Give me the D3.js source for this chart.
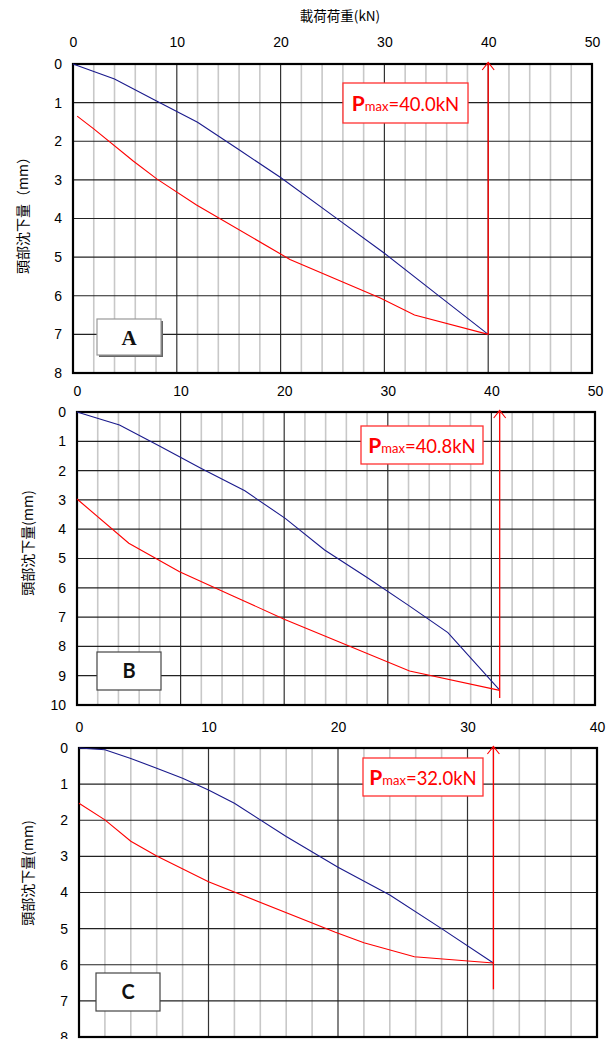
<!DOCTYPE html>
<html><head><meta charset="utf-8">
<script src="https://cdn.jsdelivr.net/npm/d3@7"></script>
<style>body{margin:0;background:#fff}svg{display:block}</style></head>
<body><svg id="chart" width="614" height="1039"></svg>
<script>
// ---- data ----
const xTitle = "載荷荷重(kN)";
const yTitles = ["頭部沈下量（mm）", "頭部沈下量(mm)", "頭部沈下量(mm)"];
const panelNames = ["A", "B", "C"];
const xMaxes = [50, 50, 40];
const yMaxes = [8, 10, 8];
const pmaxValues = [40.0, 40.8, 32.0];
const pmaxLabels = ["=40.0kN", "=40.8kN", "=32.0kN"];
const arrowEnds = [7.0, 9.76, 6.68];

const loadA = [[0,0],[4,0.39],[8,0.95],[12,1.51],[16,2.22],[20,2.94],[25,3.92],[30,4.9],[35,5.95],[40,7.0]];
const unloadA = [[40,7.0],[32.9,6.5],[29.6,6.06],[20.9,5.06],[11.9,3.65],[8.1,2.98],[5.8,2.51],[2,1.68],[0.4,1.35]];
const loadB = [[0,0],[4.1,0.44],[8,1.17],[12,1.93],[16.2,2.69],[20.1,3.63],[23.9,4.71],[28,5.65],[32,6.6],[35.8,7.53],[40.8,9.49]];
const unloadB = [[40.8,9.5],[32.1,8.84],[20,7.07],[15,6.27],[9.9,5.45],[5,4.48],[0,2.97]];
const loadC = [[0,0],[2,0.05],[4,0.29],[6,0.56],[8,0.84],[10,1.16],[12,1.53],[16,2.45],[20,3.3],[24,4.07],[28,5.0],[32,5.95]];
const unloadC = [[32,5.95],[25.9,5.78],[22,5.39],[19.8,5.1],[10,3.7],[6,2.99],[4,2.58],[2,1.99],[0,1.53]];
const loadSeries = [loadA, loadB, loadC];
const unloadSeries = [unloadA, unloadB, unloadC];

// ---- layout (pixels) ----
const layout = [
  {l:73, r:592, t:64, b:373, tickPad:17, yTitleX:23, yTitleY:212,
   box:{x:343,y:83,w:125,h:40}, lbl:{x:97,y:319,w:64,h:36}, lblFont:"'Liberation Serif', serif"},
  {l:77, r:595, t:412, b:705, tickPad:16, yTitleX:28, yTitleY:543,
   box:{x:361,y:426,w:122,h:38}, lbl:{x:97,y:652,w:64,h:38}, lblFont:"Lato, 'Open Sans', sans-serif"},
  {l:79, r:597, t:748, b:1037, tickPad:16, yTitleX:28, yTitleY:873,
   box:{x:363,y:758,w:120,h:38}, lbl:{x:96,y:973,w:64,h:38}, lblFont:"Lato, 'Open Sans', sans-serif"}
];

const svg = d3.select("#chart");
const sansFont = "'Liberation Sans', Arial, sans-serif";
const cjkFont = "'Noto Sans CJK JP', sans-serif";

svg.append("text").attr("x", 340).attr("y", 21).attr("text-anchor", "middle")
  .style("font-family", cjkFont).style("font-size", "13.5px").attr("fill", "#000").text(xTitle);

layout.forEach((L, i) => {
  const x = d3.scaleLinear().domain([0, xMaxes[i]]).range([L.l, L.r]);
  const y = d3.scaleLinear().domain([0, yMaxes[i]]).range([L.t, L.b]);
  const g = svg.append("g");

  // minor verticals every 2
  const minor = d3.range(0, xMaxes[i] + 0.001, 2).filter(v => v % 10 !== 0);
  g.selectAll(".vmin").data(minor).join("line")
    .attr("x1", d => x(d)).attr("x2", d => x(d)).attr("y1", L.t).attr("y2", L.b)
    .attr("stroke", "#c8c8c8").attr("stroke-width", 1.6);
  // major verticals every 10
  const major = d3.range(10, xMaxes[i], 10);
  g.selectAll(".vmaj").data(major).join("line")
    .attr("x1", d => x(d)).attr("x2", d => x(d)).attr("y1", L.t).attr("y2", L.b)
    .attr("stroke", "#333").attr("stroke-width", 1.2);
  // horizontal every 1 mm
  const hl = d3.range(1, yMaxes[i], 1);
  g.selectAll(".h").data(hl).join("line")
    .attr("x1", L.l).attr("x2", L.r).attr("y1", d => y(d)).attr("y2", d => y(d))
    .attr("stroke", "#222").attr("stroke-width", 1.2);

  // frame
  g.append("rect").attr("x", L.l).attr("y", L.t).attr("width", L.r - L.l).attr("height", L.b - L.t)
    .attr("fill", "none").attr("stroke", "#000").attr("stroke-width", 2.2);

  // axes
  const ax = g.append("g").attr("transform", `translate(0,${L.t})`)
    .call(d3.axisTop(x).tickValues(d3.range(0, xMaxes[i] + 0.001, 10)).tickSize(0).tickPadding(L.tickPad).tickFormat(d3.format("d")));
  const ay = g.append("g").attr("transform", `translate(${L.l},0)`)
    .call(d3.axisLeft(y).tickValues(d3.range(0, yMaxes[i] + 0.001, 1)).tickSize(0).tickPadding(11).tickFormat(d3.format("d")));
  [ax, ay].forEach(a => {
    a.select(".domain").remove();
    a.selectAll("text").style("font-family", sansFont).style("font-size", "14px").attr("fill", "#000");
  });

  // y title
  svg.append("text").attr("transform", `translate(${L.yTitleX},${L.yTitleY}) rotate(-90)`)
    .attr("text-anchor", "middle").attr("dy", "0.35em")
    .style("font-family", cjkFont).style("font-size", "14px").attr("fill", "#000").text(yTitles[i]);

  // curves
  const line = d3.line().x(d => x(d[0])).y(d => y(d[1]));
  g.append("path").attr("d", line(loadSeries[i])).attr("fill", "none").attr("stroke", "#1a1a8c").attr("stroke-width", 1.1);
  g.append("path").attr("d", line(unloadSeries[i])).attr("fill", "none").attr("stroke", "#ff0000").attr("stroke-width", 1.1);

  // Pmax arrow
  const px = x(pmaxValues[i]);
  g.append("line").attr("x1", px).attr("x2", px).attr("y1", y(0) - 1.5).attr("y2", y(arrowEnds[i]))
    .attr("stroke", "#ff0000").attr("stroke-width", 1.3);
  g.append("path").attr("d", `M${px - 6},${y(0) + 6} L${px},${y(0) - 1.5} L${px + 6},${y(0) + 6}`)
    .attr("fill", "none").attr("stroke", "#ff0000").attr("stroke-width", 1.1);

  // Pmax box
  const B = L.box;
  g.append("rect").attr("x", B.x).attr("y", B.y).attr("width", B.w).attr("height", B.h)
    .attr("fill", "#fff").attr("stroke", "#ff3030").attr("stroke-width", 1.3);
  const t = g.append("text").attr("x", B.x + B.w / 2).attr("y", B.y + B.h / 2 + 7.5)
    .attr("text-anchor", "middle").attr("fill", "#ff0000").style("font-family", "Lato, 'Open Sans', sans-serif");
  t.append("tspan").text("P").style("font-size", "21px").style("font-weight", "bold");
  t.append("tspan").text("max").style("font-size", "13px");
  t.append("tspan").text(pmaxLabels[i]).style("font-size", "18.5px");

  // panel label box
  const Lb = L.lbl;
  g.append("rect").attr("x", Lb.x + 2).attr("y", Lb.y + 2).attr("width", Lb.w).attr("height", Lb.h)
    .attr("fill", i === 0 ? "#666" : "none");
  g.append("rect").attr("x", Lb.x).attr("y", Lb.y).attr("width", Lb.w).attr("height", Lb.h)
    .attr("fill", "#fff").attr("stroke", i === 0 ? "#999" : "#444").attr("stroke-width", 1.2);
  g.append("text").attr("x", Lb.x + Lb.w / 2).attr("y", Lb.y + Lb.h / 2).attr("dy", "0.36em")
    .attr("text-anchor", "middle").style("font-family", L.lblFont).style("font-weight", "bold")
    .style("font-size", i === 0 ? "21px" : "20px").attr("fill", "#111").text(panelNames[i]);
});
</script></body></html>
